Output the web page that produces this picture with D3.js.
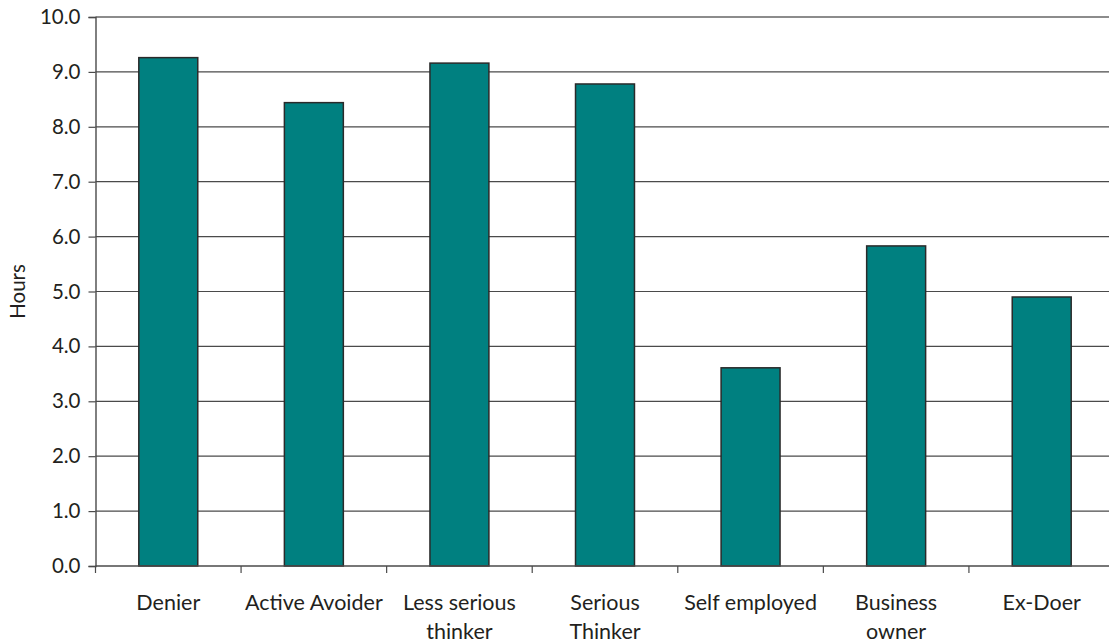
<!DOCTYPE html>
<html>
<head>
<meta charset="utf-8">
<script src="https://cdn.jsdelivr.net/npm/d3@7"></script>
<style>
  html, body { margin: 0; padding: 0; background: #fff; }
  svg { display: block; }
  text { font-family: Lato, "Open Sans", sans-serif; fill: #231f20; }
</style>
</head>
<body>
<svg id="chart" width="1109" height="642"></svg>
<script>
// Average hours per segment
const categories = [
  ["Denier"],
  ["Active Avoider"],
  ["Less serious", "thinker"],
  ["Serious", "Thinker"],
  ["Self employed"],
  ["Business", "owner"],
  ["Ex-Doer"]
];
const hours = [9.26, 8.44, 9.16, 8.78, 3.61, 5.83, 4.90];
const yTicks = [0, 1, 2, 3, 4, 5, 6, 7, 8, 9, 10];
const yLabel = "Hours";

const svg = d3.select("#chart");
const plotLeft = 95.5, plotRight = 1114.5, plotTop = 17, plotBottom = 566;

const keys = categories.map(c => c.join(" "));
const x = d3.scaleBand().domain(keys).range([plotLeft, plotRight]).paddingInner(0.595).paddingOuter(0.2975);
const y = d3.scaleLinear().domain([0, 10]).range([plotBottom, plotTop]);

// horizontal gridlines
svg.append("g").selectAll("line")
  .data(yTicks.filter(t => t > 0))
  .join("line")
  .attr("x1", plotLeft).attr("x2", plotRight)
  .attr("y1", d => y(d)).attr("y2", d => y(d))
  .attr("stroke", d => d === 10 ? "#8c8c8c" : "#4a4a4a")
  .attr("stroke-width", d => d === 10 ? 2 : 1.2);

// bars
svg.append("g").selectAll("rect")
  .data(hours)
  .join("rect")
  .attr("x", (d, i) => x(keys[i]))
  .attr("width", x.bandwidth())
  .attr("y", d => y(d))
  .attr("height", d => y(0) - y(d))
  .attr("fill", "#008080")
  .attr("stroke", "#2a2a2a")
  .attr("stroke-width", 1.5);

// y axis
const yAxis = svg.append("g").attr("transform", `translate(${plotLeft},0)`)
  .call(d3.axisLeft(y).tickValues(yTicks).tickFormat(d3.format(".1f")).tickSize(7).tickPadding(8));
yAxis.select(".domain").attr("stroke", "#4a4a4a").attr("stroke-width", 1.4);
yAxis.selectAll(".tick line").attr("stroke", "#4a4a4a").attr("stroke-width", 1.2);
yAxis.selectAll("text").attr("font-size", 20.5).attr("font-family", "Lato, sans-serif").attr("fill", "#231f20");

// x axis with ticks on category boundaries
const bounds = d3.range(categories.length + 1).map(i => plotLeft + i * (plotRight - plotLeft) / categories.length);
svg.append("line")
  .attr("x1", plotLeft).attr("x2", plotRight).attr("y1", plotBottom).attr("y2", plotBottom)
  .attr("stroke", "#4a4a4a").attr("stroke-width", 1.4);
svg.append("g").selectAll("line")
  .data(bounds)
  .join("line")
  .attr("x1", d => d).attr("x2", d => d)
  .attr("y1", plotBottom).attr("y2", plotBottom + 7)
  .attr("stroke", "#4a4a4a").attr("stroke-width", 1.2);

// category labels
const labels = svg.append("g").selectAll("text")
  .data(categories)
  .join("text")
  .attr("x", (d, i) => x(keys[i]) + x.bandwidth() / 2)
  .attr("y", 610)
  .attr("text-anchor", "middle")
  .attr("font-size", 21.5);
labels.selectAll("tspan")
  .data(d => d)
  .join("tspan")
  .attr("x", function() { return this.parentNode.getAttribute("x"); })
  .attr("dy", (d, i) => i === 0 ? 0 : 29)
  .text(d => d);

// y axis title
svg.append("text")
  .attr("transform", `translate(25,${(plotTop + plotBottom) / 2}) rotate(-90)`)
  .attr("text-anchor", "middle")
  .attr("font-size", 20.5)
  .text(yLabel);
</script>
</body>
</html>
